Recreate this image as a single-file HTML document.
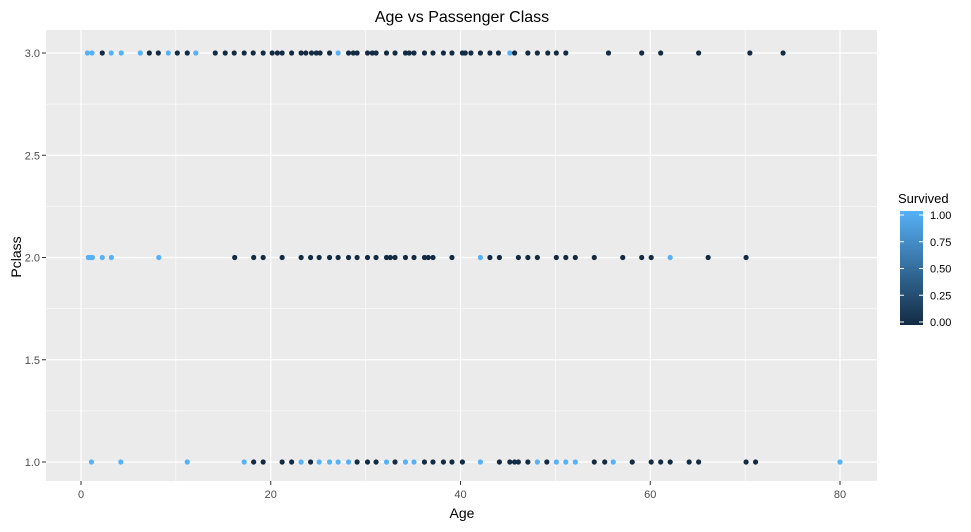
<!DOCTYPE html>
<html><head><meta charset="utf-8"><style>
body{margin:0;background:#fff;font-family:"Liberation Sans",sans-serif}
</style></head><body>
<svg id="chart" width="971" height="527" xmlns="http://www.w3.org/2000/svg" font-family="Liberation Sans, sans-serif">
<defs><linearGradient id="cg" x1="0" y1="1" x2="0" y2="0"><stop offset="0" stop-color="#132B43"/><stop offset="1" stop-color="#56B1F7"/></linearGradient></defs>
<text x="462" y="22" text-anchor="middle" font-size="16" fill="#000">Age vs Passenger Class</text>
<rect x="46" y="30" width="831" height="451" fill="#EBEBEB"/>
<g id="grid"></g><g id="pts"></g><g id="axes"></g>
<text x="462" y="518" text-anchor="middle" font-size="14">Age</text>
<text transform="translate(21,257) rotate(-90)" text-anchor="middle" font-size="14">Pclass</text>
<g>
<text x="898" y="203" font-size="13">Survived</text>
<rect x="900" y="211" width="23" height="114" fill="url(#cg)"/>
<g id="leg"></g>
</g>
</svg>
<script>
const ageTicks=[0,20,40,60,80];
const classTicks=[1.0,1.5,2.0,2.5,3.0];
const legendTicks=[0,0.25,0.5,0.75,1];
const ages3=[0.67,1.16,2.24,3.18,4.24,6.25,7.2,8.15,9.2,10.15,11.2,12.1,14.15,15.2,16.15,17.2,18.15,19.2,20.15,20.7,21.2,22.2,23.2,23.7,24.3,24.8,25.2,26.2,27.1,28.2,28.7,29.1,30.2,30.7,31.1,32.2,33.1,34.2,34.6,35.1,36.2,37.1,38.2,39.1,40.2,40.5,41.1,42.1,43.1,44.0,45.2,45.7,47.1,48.1,49.2,50.1,51.1,55.6,59.1,61.1,65.1,70.5,74.0];
const surv3=[1,1,0,1,1,1,0,0,1,0,0,1,0,0,0,0,0,0,0,0,0,0,0,0,0,0,0,0,1,0,0,0,0,0,0,0,0,0,0,0,0,0,0,0,0,0,0,0,0,0,1,0,0,0,0,0,0,0,0,0,0,0,0];
const ages2=[0.77,1,1.2,2.24,3.2,8.2,16.2,18.2,19.2,21.2,23.2,24.2,25.1,26.2,27.1,28.2,29.1,30.2,31.1,32.2,32.6,33.1,34.2,35.1,36.2,36.6,37.1,39.1,42.1,43.1,44.1,46.1,47.1,48.1,50.1,51.1,52.1,54.1,57.1,59.1,60.1,62.1,66.1,70.1];
const surv2=[1,1,1,1,1,1,0,0,0,0,0,0,0,0,0,0,0,0,0,0,0,0,0,0,0,0,0,0,1,0,0,0,0,0,0,0,0,0,0,0,0,1,0,0];
const ages1=[1.1,4.2,11.2,17.2,18.2,19.2,21.2,22.2,23.2,24.2,25.1,26.2,27.1,28.2,29.1,30.2,31.1,32.2,33.1,34.2,35.1,36.2,37.1,38.2,39.1,40.2,42.1,44.1,45.2,45.7,46.1,47.1,48.1,49.1,50.1,51.1,52.1,54.1,55.2,56.1,58.1,60.1,61.1,62.1,64.1,65.1,70.1,71.1,80];
const surv1=[1,1,1,1,0,0,0,0,1,0,1,1,1,1,0,0,0,1,0,1,1,0,0,0,0,0,1,0,0,0,0,0,1,0,1,1,1,0,0,1,0,0,0,0,0,0,0,0,1];
const NS="http://www.w3.org/2000/svg";
const xs=a=>81+a*(840-81)/80, ys=c=>462-(c-1)*(462-53)/2;
function mk(p,t,at){const e=document.createElementNS(NS,t);for(const k in at)e.setAttribute(k,at[k]);p.appendChild(e);return e;}
const G=document.getElementById('grid'),A=document.getElementById('axes'),P=document.getElementById('pts'),L=document.getElementById('leg');
for(let i=0;i<ageTicks.length;i++){const v=ageTicks[i];
 if(i>0){const m=mk(G,'line',{x1:xs(v-10),x2:xs(v-10),y1:30,y2:481,stroke:'#fff','stroke-width':0.6});}
 const l=mk(G,'line',{x1:xs(v),x2:xs(v),y1:30,y2:481,stroke:'#fff','stroke-width':1.2});
 const tk=mk(A,'line',{x1:xs(v),x2:xs(v),y1:481,y2:485,stroke:'#333'});
 const t=mk(A,'text',{x:xs(v),y:498,'text-anchor':'middle','font-size':11,fill:'#4D4D4D'});t.textContent=v;}
for(let i=0;i<classTicks.length;i++){const v=classTicks[i];
 if(i>0){const m=mk(G,'line',{x1:46,x2:877,y1:ys(v-0.25),y2:ys(v-0.25),stroke:'#fff','stroke-width':0.6});}
 const l=mk(G,'line',{x1:46,x2:877,y1:ys(v),y2:ys(v),stroke:'#fff','stroke-width':1.2});
 const tk=mk(A,'line',{x1:42,x2:46,y1:ys(v),y2:ys(v),stroke:'#333'});
 const t=mk(A,'text',{x:40,y:ys(v)+4,'text-anchor':'end','font-size':11,fill:'#4D4D4D'});t.textContent=v.toFixed(1);}
[[ages1,surv1,1],[ages2,surv2,2],[ages3,surv3,3]].forEach(([a,s,c])=>{a.forEach((v,i)=>{
 const p=mk(P,'circle',{cx:xs(v),cy:ys(c),r:2.6,fill:s[i]?'#56B1F7':'#132B43'});
 
 });});
legendTicks.forEach(v=>{const y=322-v*(322-215);
 mk(L,'line',{x1:900,x2:904,y1:y,y2:y,stroke:'#fff'});mk(L,'line',{x1:919,x2:923,y1:y,y2:y,stroke:'#fff'});
 const t=mk(L,'text',{x:930,y:y+4,'font-size':11,fill:'#000'});t.textContent=v.toFixed(2);
 
 });
</script>
</body></html>
